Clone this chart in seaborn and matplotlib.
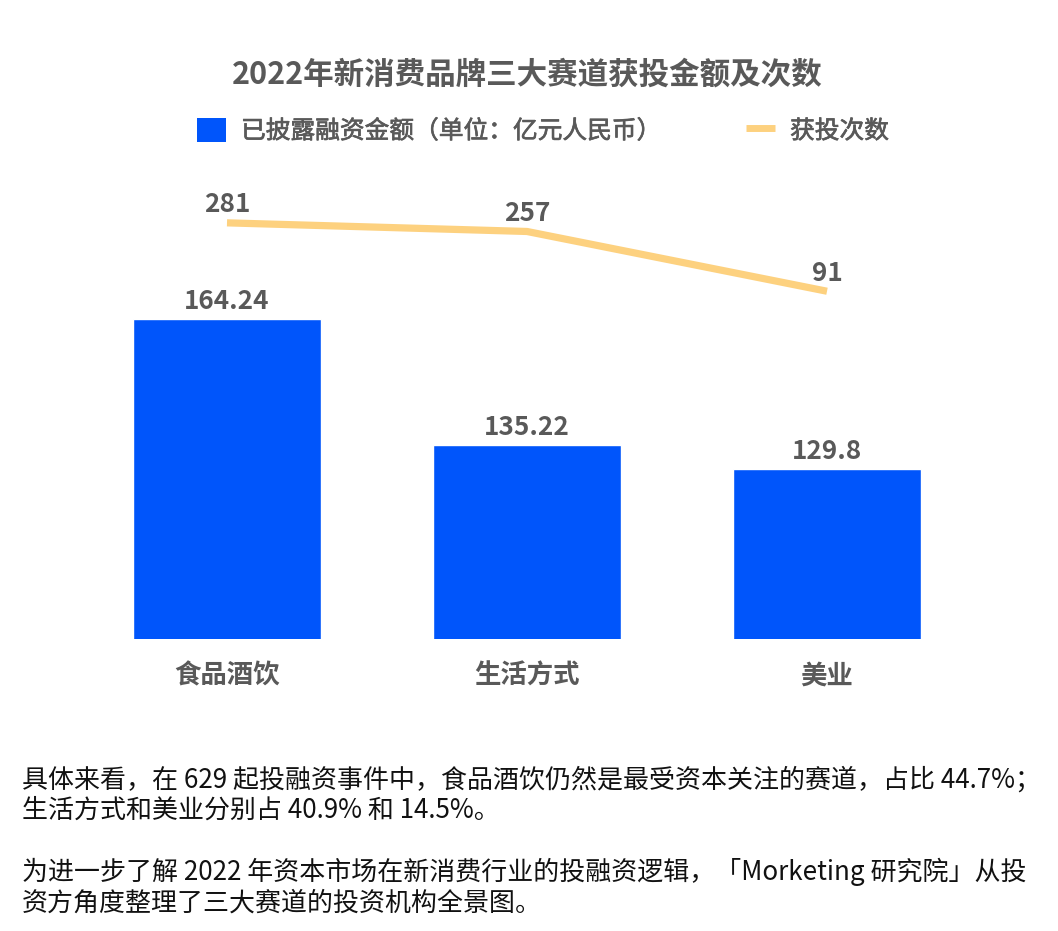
#!/usr/bin/env python3
# plot.py
import pandas as pd
import matplotlib
matplotlib.use("Agg")
import matplotlib.pyplot as plt
import matplotlib.patheffects as pe
from matplotlib.patches import Patch
from matplotlib.lines import Line2D
import seaborn as sns

categories = ['食品酒饮', '生活方式', '美业']
amounts = [164.24, 135.22, 129.8]
counts = [281, 257, 91]
amount_labels = ['164.24', '135.22', '129.8']

title = '2022年新消费品牌三大赛道获投金额及次数'
legend_labels = ['已披露融资金额（单位：亿元人民币）', '获投次数']
body_lines = [
    '具体来看，在 629 起投融资事件中，食品酒饮仍然是最受资本关注的赛道，占比 44.7%；',
    '生活方式和美业分别占 40.9% 和 14.5%。',
    '为进一步了解 2022 年资本市场在新消费行业的投融资逻辑，「Morketing 研究院」从投',
    '资方角度整理了三大赛道的投资机构全景图。',
]

BLUE = '#0055fb'
YELLOW = '#fdd17f'
GREY = '#595959'
W, H = 1058, 931

sns.set_theme(style='white')
plt.rcParams['font.family'] = ['Noto Sans CJK SC', 'DejaVu Sans']

df = pd.DataFrame({'category': categories, 'amount': amounts, 'count': counts})

fig = plt.figure(figsize=(W / 100, H / 100), dpi=100)
ax = fig.add_axes([77 / W, (H - 639) / H, 900 / W, 459 / H])

# Bars: the axis does not start at zero in the original
sns.barplot(data=df, x='category', y='amount', color=BLUE, saturation=1, width=0.625, ax=ax)
ax.set_ylim(90.7, 196.3)
ax.set_xlim(-0.5, 2.5)
ax.bar_label(ax.containers[0], labels=amount_labels, padding=3, fontsize=18.8,
             fontweight='bold', color=GREY)
ax.set_xlabel('')
ax.set_ylabel('')
ax.set_yticks([])
ax.tick_params(axis='x', length=0, pad=17, labelsize=19, labelcolor=GREY)
for lab in ax.get_xticklabels():
    lab.set_fontweight('bold')

# Line on its own hidden scale
ax2 = ax.twinx()
sns.lineplot(data=df, x='category', y='count', color=YELLOW, linewidth=5.2, sort=False,
             ax=ax2, legend=False)
ax2.lines[0].set_solid_capstyle('butt')
ax2.set_ylim(-875, 400)
ax2.set_yticks([])
ax2.set_ylabel('')
ax2.set_xlabel('')
for c, n in zip(categories, counts):
    ax2.annotate(str(n), (c, n), xytext=(0, 13), textcoords='offset points', ha='center',
                 va='center', fontsize=18.8, fontweight='bold', color=GREY)

sns.despine(fig=fig, left=True, bottom=True, right=True, top=True)

fig.text(527 / W, 1 - 75 / H, title, ha='center', va='center', fontsize=22,
         fontweight='bold', color=GREY)

handles = [Patch(facecolor=BLUE, edgecolor='none'),
           Line2D([0], [0], color=YELLOW, linewidth=5, solid_capstyle='butt')]
leg = fig.legend(handles, legend_labels, ncol=2, frameon=False, loc='center left',
                 bbox_to_anchor=(175 / W, 1 - 131 / H), handlelength=1.15,
                 handleheight=1.15, handletextpad=0.62, columnspacing=3.42,
                 labelcolor=GREY, prop={'size': 17.8})
# the legend text is a bit heavier than regular
for t in leg.get_texts():
    t.set_path_effects([pe.withStroke(linewidth=0.5, foreground=GREY)])

for y, line in zip([780, 810, 872, 903], body_lines):
    fig.text(22 / W, 1 - y / H, line, ha='left', va='center', fontsize=18.7, color='#111111')

fig.savefig('out.png', dpi=100, facecolor='white')
